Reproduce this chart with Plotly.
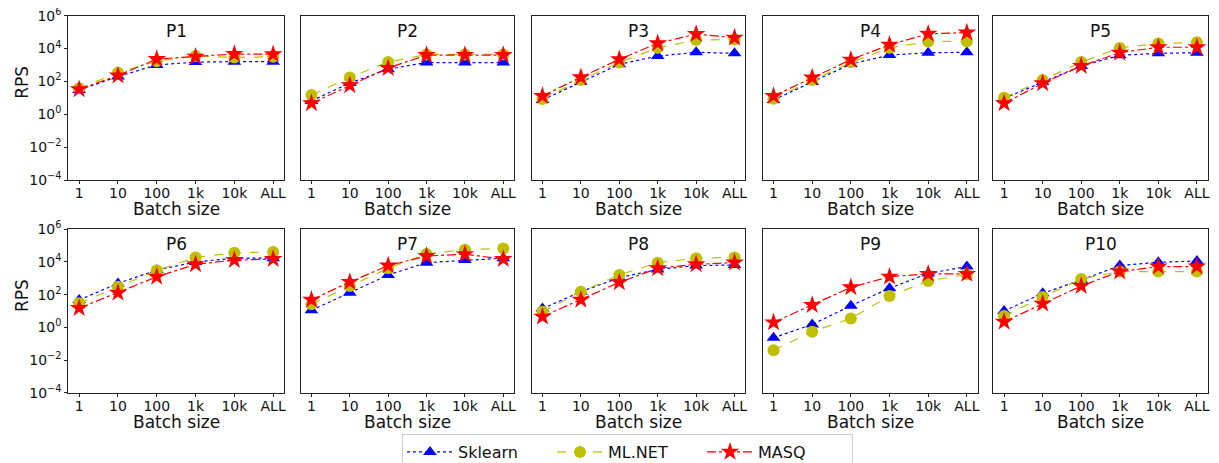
import plotly.graph_objects as go

batch_labels = ["1", "10", "100", "1k", "10k", "ALL"]
panel_titles = ["P1", "P2", "P3", "P4", "P5", "P6", "P7", "P8", "P9", "P10"]

sklearn = [
    [30, 200, 1000, 1500, 1600, 1600],
    [6.5, 80, 560, 1400, 1400, 1400],
    [7.4, 91, 1100, 3500, 5900, 5100],
    [7.4, 91, 1150, 4000, 5600, 5900],
    [9.3, 91, 870, 3900, 5100, 5600],
    [47, 490, 3200, 10000, 17000, 17000],
    [11, 130, 1600, 9100, 13000, 17000],
    [14, 150, 1100, 3500, 6000, 6600],
    [0.23, 1.5, 21, 245, 2000, 5200],
    [10, 120, 790, 6000, 9600, 11500],
]
mlnet = [
    [38, 340, 1700, 3500, 2900, 3200],
    [15, 175, 1500, 4400, 4400, 4400],
    [8.5, 120, 1400, 11000, 33000, 36000],
    [8.9, 120, 1450, 11000, 27000, 27000],
    [10, 120, 1500, 11000, 20000, 24000],
    [30, 300, 3000, 19000, 37000, 41000],
    [26, 340, 4100, 31000, 57000, 66000],
    [9, 150, 1600, 9100, 17000, 19000],
    [0.04, 0.54, 3.5, 83, 690, 1750],
    [4.9, 72, 910, 2600, 2600, 2600],
]
masq = [
    [33, 230, 2300, 3200, 4700, 4500],
    [4.7, 58, 660, 4000, 4000, 4000],
    [13, 180, 2200, 21000, 76000, 46000],
    [13, 170, 2100, 17000, 79000, 93000],
    [4.7, 76, 870, 5600, 12000, 12000],
    [15, 130, 1250, 7200, 13000, 15000],
    [49, 600, 6000, 23000, 30000, 15000],
    [4.5, 49, 570, 4100, 7200, 9100],
    [2.0, 23, 280, 1260, 1860, 1860],
    [2.2, 28, 340, 2600, 5200, 5200],
]

ytick_vals = [1e-4, 1e-2, 1, 1e2, 1e4, 1e6]
ytick_text = ["10<sup>\u22124</sup>", "10<sup>\u22122</sup>", "10<sup>0</sup>",
              "10<sup>2</sup>", "10<sup>4</sup>", "10<sup>6</sup>"]

W, H = 1219, 463
OFF = 8  # page body margin
col_px = [(68.3, 284.0), (300.7, 514.0), (531.7, 745.3), (762.7, 977.7), (993.3, 1207.7)]
row_px = [(15.7, 180.0), (229.3, 392.7)]


def fx(p):
    return (p - OFF) / W


def fy(p):
    return 1 - (p - OFF) / H


series = [
    ("Sklearn", sklearn, "#0000ff", "dot", "triangle-up", 12),
    ("ML.NET", mlnet, "#bfbf00", "dash", "circle", 12),
    ("MASQ", masq, "#ff0000", "dashdot", "star", 14),
]

FONT = "DejaVu Sans"
fig = go.Figure()
annotations = []
layout = {}
for i in range(10):
    r, c = divmod(i, 5)
    n = i + 1
    xa = "x" if n == 1 else f"x{n}"
    ya = "y" if n == 1 else f"y{n}"
    x0, x1 = col_px[c]
    y0, y1 = row_px[r]
    for name, data, color, dash, sym, size in series:
        fig.add_trace(go.Scatter(
            x=batch_labels, y=data[i], name=name, mode="lines+markers",
            line=dict(color=color, dash=dash, width=1.2),
            marker=dict(symbol=sym, size=size, color=color),
            xaxis=xa, yaxis=ya, showlegend=(i == 0), legendgroup=name,
        ))
    layout["xaxis" if n == 1 else f"xaxis{n}"] = dict(
        domain=[fx(x0), fx(x1)], anchor=ya, type="category",
        range=[-0.28, 5.28], showline=True, mirror=True, linecolor="#222",
        linewidth=1, showgrid=False, zeroline=False, ticks="outside",
        ticklen=3, tickcolor="#222", automargin=False, ticklabelstandoff=-3,
        ticklabeloverflow="allow",
        tickfont=dict(family=FONT, size=14, color="#111"),
    )
    layout["yaxis" if n == 1 else f"yaxis{n}"] = dict(
        domain=[fy(y1), fy(y0)], anchor=xa, type="log",
        range=[-4, 6], showline=True, mirror=True, linecolor="#222",
        linewidth=1, showgrid=False, zeroline=False,
        tickvals=ytick_vals, ticktext=ytick_text, automargin=False,
        showticklabels=(c == 0), ticks="outside" if c == 0 else "",
        ticklen=3, tickcolor="#222", ticklabeloverflow="allow",
        tickfont=dict(family=FONT, size=14, color="#111"),
    )
    annotations.append(dict(
        text=panel_titles[i], x=fx((x0 + x1) / 2), y=fy(y0 + 15),
        xref="paper", yref="paper", showarrow=False,
        font=dict(family=FONT, size=17, color="#111"),
        xanchor="center", yanchor="middle",
    ))
    annotations.append(dict(
        text="Batch size", x=fx((x0 + x1) / 2), y=fy(y1 + 29),
        xref="paper", yref="paper", showarrow=False,
        font=dict(family=FONT, size=17, color="#111"),
        xanchor="center", yanchor="middle",
    ))

for r in range(2):
    y0, y1 = row_px[r]
    annotations.append(dict(
        text="RPS", x=fx(22), y=fy((y0 + y1) / 2 - 15),
        xref="paper", yref="paper", showarrow=False, textangle=-90,
        font=dict(family=FONT, size=17, color="#111"),
        xanchor="center", yanchor="middle",
    ))

fig.update_layout(
    **layout,
    annotations=annotations,
    width=W, height=H, autosize=False,
    margin=dict(l=0, r=0, t=0, b=0, pad=0, autoexpand=False),
    paper_bgcolor="white", plot_bgcolor="white",
    font=dict(family=FONT, color="#111"),
    legend=dict(
        orientation="h", x=fx(402), xanchor="left", y=fy(434), yanchor="top",
        xref="paper", yref="paper",
        bordercolor="#cccccc", borderwidth=1, bgcolor="white",
        font=dict(family=FONT, size=16, color="#111"),
        itemwidth=46, entrywidth=89, entrywidthmode="pixels",
    ),
)

fig.write_html("out.html")
